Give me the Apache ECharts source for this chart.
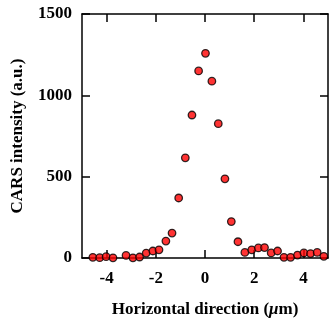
<!DOCTYPE html>
<html>
<head>
<meta charset="utf-8">
<script src="https://cdn.jsdelivr.net/npm/echarts@6/dist/echarts.min.js"></script>
<style>
  html, body { margin: 0; padding: 0; background: #fff; }
  #chart { width: 329px; height: 323px; }
</style>
</head>
<body>
<div id="chart"></div>
<script>
// horizontal position of each measurement (um)
const xPos = [-4.56, -4.28, -4.02, -3.74, -3.21, -2.93, -2.66, -2.39, -2.12, -1.87,
  -1.59, -1.34, -1.07, -0.80, -0.53, -0.26, 0.02, 0.28, 0.54, 0.81,
  1.07, 1.34, 1.62, 1.90, 2.17, 2.42, 2.69, 2.95, 3.21, 3.48,
  3.76, 4.02, 4.29, 4.56, 4.83];
// CARS intensity (a.u.)
const intensity = [4, 2, 8, 1, 16, 1, 6, 30, 43, 50,
  104, 153, 369, 616, 879, 1150, 1258, 1087, 826, 487,
  224, 100, 34, 50, 62, 64, 31, 43, 4, 4,
  18, 31, 27, 34, 10];
const xTicks = [-4, -2, 0, 2, 4];
const yTicks = [0, 500, 1000, 1500];

const font = '"Liberation Serif", "Times New Roman", serif';
const line = { lineStyle: { color: '#000', width: 1.5 } };

const chart = echarts.init(document.getElementById('chart'));

const option = {
  animation: false,
  grid: { left: 82, right: 1, top: 14, bottom: 64 },
  xAxis: [
    {
      type: 'value',
      position: 'bottom',
      min: -5,
      max: 5,
      axisLine: { show: true, onZero: false, ...line },
      axisTick: { show: true, inside: true, length: 8, customValues: xTicks, ...line },
      axisLabel: {
        customValues: xTicks,
        margin: 12,
        color: '#000',
        fontFamily: font,
        fontWeight: 'bold',
        fontSize: 17,
        formatter: (v) => String(v),
      },
      splitLine: { show: false },
      name: '{b|Horizontal direction (}{i|\u03bc}{b|m)}',
      nameLocation: 'middle',
      nameGap: 43,
      nameTextStyle: {
        rich: {
          b: { fontFamily: font, fontWeight: 'bold', fontSize: 17, color: '#000' },
          i: { fontFamily: font, fontWeight: 'bold', fontStyle: 'italic', fontSize: 17, color: '#000' },
        },
      },
    },
    {
      type: 'value',
      position: 'top',
      min: -5,
      max: 5,
      axisLine: { show: true, onZero: false, ...line },
      axisTick: { show: true, inside: true, length: 8, customValues: xTicks, ...line },
      axisLabel: { show: false },
      splitLine: { show: false },
    },
  ],
  yAxis: [
    {
      type: 'value',
      position: 'left',
      min: 0,
      max: 1500,
      interval: 500,
      axisLine: { show: true, onZero: false, ...line },
      axisTick: { show: true, inside: true, length: 8, ...line },
      axisLabel: {
        margin: 10,
        color: '#000',
        fontFamily: font,
        fontWeight: 'bold',
        fontSize: 17,
        customValues: yTicks,
        formatter: (v) => String(v),
      },
      splitLine: { show: false },
      name: 'CARS intensity (a.u.)',
      nameLocation: 'middle',
      nameGap: 56,
      nameTextStyle: { fontFamily: font, fontWeight: 'bold', fontSize: 17, color: '#000' },
    },
    {
      type: 'value',
      position: 'right',
      min: 0,
      max: 1500,
      interval: 500,
      axisLine: { show: true, onZero: false, ...line },
      axisTick: { show: true, inside: true, length: 8, ...line },
      axisLabel: { show: false },
      splitLine: { show: false },
    },
  ],
  series: [
    {
      type: 'scatter',
      xAxisIndex: 0,
      yAxisIndex: 0,
      symbol: 'circle',
      symbolSize: 7.5,
      itemStyle: { color: '#ff0000', borderColor: '#000', borderWidth: 1.3 },
      data: xPos.map((x, i) => [x, intensity[i]]),
    },
  ],
};

chart.setOption(option);
</script>
</body>
</html>
